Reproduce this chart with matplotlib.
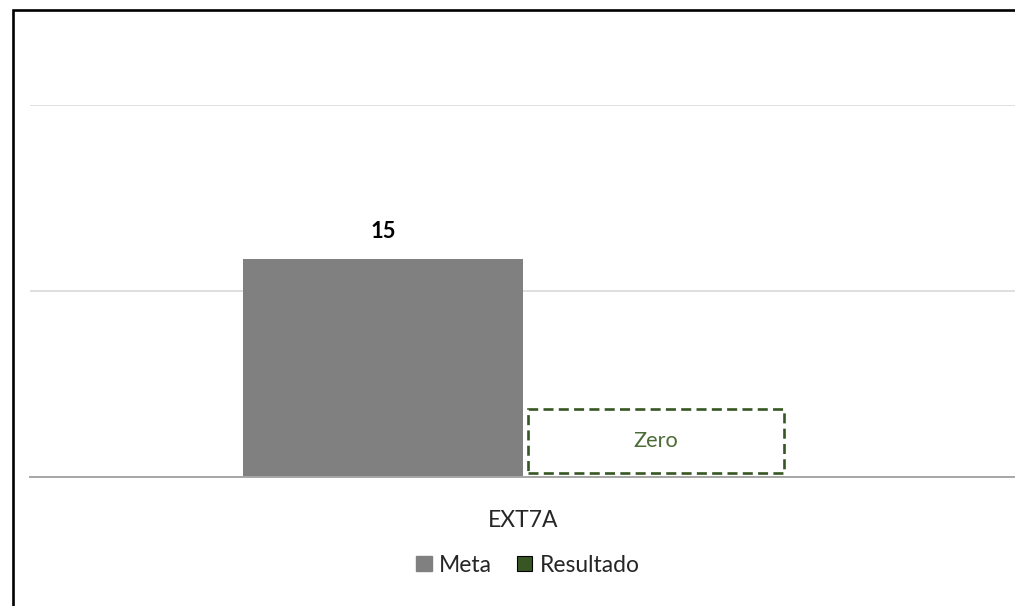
import matplotlib.pyplot as plt
from matplotlib.patches import Rectangle, Patch
import numpy as np

# Meta x Resultado per indicator
categories = ['EXT7A']
meta = [15]
resultado = [0]
grid_ticks = [0, 12.8, 25.6]

meta_color = '#808080'
res_color = '#375623'

plt.rcParams['font.family'] = ['Lato', 'DejaVu Sans']

fig = plt.figure(figsize=(10.15, 6.06), dpi=100)
ax = fig.add_axes([30 / 1015, 129 / 606, 986 / 1015, 372 / 606])

x = np.arange(len(categories))
w = 0.284
ax.bar(x - w / 2, meta, w, color=meta_color, zorder=3)
ax.bar(x + w / 2, resultado, w, color=res_color, zorder=3)

# value labels
for xi, v in zip(x, meta):
    ax.text(xi - w / 2, v + 1.2, str(v), ha='center', va='bottom',
            fontsize=15.8, fontweight='bold', color='black')

# dashed label box for zero results
for xi, v in zip(x, resultado):
    if v == 0:
        bx = xi + w / 2 - 0.137
        ax.add_patch(Rectangle((bx, 0.27), 0.26, 4.4, fill=False,
                               edgecolor=res_color, lw=1.9, ls=(0, (3.8, 2.0)),
                               zorder=4, clip_on=False))
        ax.text(bx + 0.13, 2.45, 'Zero', ha='center', va='center',
                fontsize=15.6, color='#4a6b35', zorder=5)

ax.set_xlim(-0.5, 0.5)
ax.set_ylim(0, 25.6)
ax.set_yticks(grid_ticks)
ax.yaxis.grid(True, color='#d9d9d9', lw=1.2, zorder=0)
ax.tick_params(axis='y', left=False, labelleft=False)
ax.set_xticks(x)
ax.set_xticklabels(categories, fontsize=16.5, color='#262626')
ax.tick_params(axis='x', length=0, pad=24)
for s in ['top', 'right', 'left']:
    ax.spines[s].set_visible(False)
ax.spines['bottom'].set_color('#a6a6a6')
ax.spines['bottom'].set_linewidth(1.4)
ax.spines['bottom'].set_zorder(5)

handles = [Patch(facecolor=meta_color, edgecolor=meta_color, label='Meta'),
           Patch(facecolor=res_color, edgecolor='black', lw=0.8, label='Resultado')]
fig.legend(handles=handles, loc='center', bbox_to_anchor=(528 / 1015, 1 - 565 / 606),
           ncol=2, frameon=False, fontsize=16.5, handlelength=0.66, handleheight=0.66,
           handletextpad=0.32, columnspacing=1.1, labelcolor='#262626')

# outer frame
fig.patches.append(Rectangle((12.5 / 1015, -0.1), 1.2, 1 - 10 / 606 + 0.1,
                             transform=fig.transFigure, fill=False,
                             edgecolor='black', lw=1.9, zorder=10))

fig.savefig('out.png', dpi=100)
